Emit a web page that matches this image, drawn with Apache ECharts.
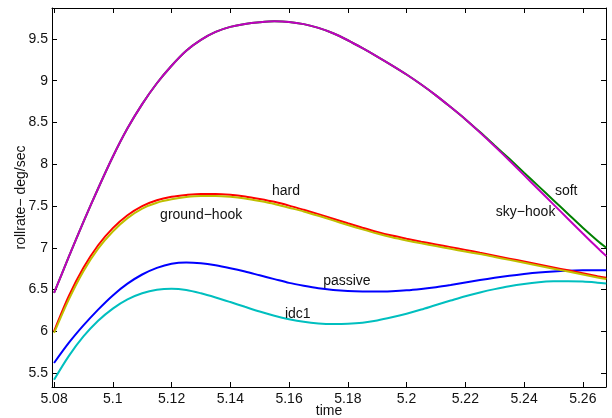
<!DOCTYPE html>
<html>
<head>
<meta charset="utf-8">
<script src="https://cdn.jsdelivr.net/npm/echarts@6/dist/echarts.min.js"></script>
<style>
  html, body { margin: 0; padding: 0; background: #fff; }
  #chart { width: 612px; height: 418px; }
</style>
</head>
<body>
<div id="chart"></div>
<script>
// time samples (s)
const times = [5.08, 5.085, 5.09, 5.095, 5.10, 5.105, 5.11, 5.115, 5.12, 5.125,
  5.13, 5.135, 5.14, 5.145, 5.15, 5.155, 5.16, 5.165, 5.17, 5.175,
  5.18, 5.185, 5.19, 5.195, 5.20, 5.205, 5.21, 5.215, 5.22, 5.225,
  5.23, 5.235, 5.24, 5.245, 5.25, 5.255, 5.26, 5.265, 5.268];

const passive = [5.62, 5.86, 6.07, 6.26, 6.43, 6.57, 6.68, 6.76, 6.81, 6.825,
  6.815, 6.79, 6.755, 6.715, 6.67, 6.625, 6.58, 6.545, 6.515, 6.495,
  6.482, 6.476, 6.475, 6.48, 6.49, 6.507, 6.528, 6.555, 6.585, 6.613,
  6.64, 6.664, 6.685, 6.703, 6.716, 6.725, 6.73, 6.732, 6.732];

const soft = [6.46, 6.89, 7.31, 7.71, 8.09, 8.43, 8.72, 8.97, 9.18, 9.36,
  9.49, 9.585, 9.645, 9.68, 9.70, 9.711, 9.704, 9.678, 9.633, 9.569,
  9.485, 9.39, 9.29, 9.185, 9.075, 8.955, 8.825, 8.685, 8.54, 8.385,
  8.225, 8.065, 7.90, 7.735, 7.57, 7.405, 7.24, 7.085, 7.00];

const hard = [6.00, 6.42, 6.76, 7.03, 7.235, 7.39, 7.50, 7.57, 7.61, 7.632,
  7.645, 7.645, 7.635, 7.615, 7.585, 7.55, 7.505, 7.455, 7.403, 7.348,
  7.293, 7.24, 7.19, 7.146, 7.108, 7.073, 7.04, 7.008, 6.975, 6.94,
  6.905, 6.87, 6.835, 6.80, 6.765, 6.73, 6.695, 6.66, 6.64];

const idc1 = [5.42, 5.703, 5.938, 6.126, 6.272, 6.382, 6.455, 6.497, 6.51, 6.495,
  6.455, 6.405, 6.35, 6.293, 6.237, 6.187, 6.145, 6.113, 6.094, 6.087,
  6.09, 6.103, 6.13, 6.167, 6.21, 6.26, 6.315, 6.368, 6.42, 6.465,
  6.505, 6.54, 6.567, 6.587, 6.598, 6.60, 6.595, 6.582, 6.572];

const skyHook = [6.46, 6.89, 7.31, 7.71, 8.09, 8.43, 8.72, 8.97, 9.18, 9.36,
  9.49, 9.585, 9.645, 9.68, 9.70, 9.711, 9.704, 9.678, 9.633, 9.569,
  9.485, 9.39, 9.29, 9.185, 9.075, 8.955, 8.825, 8.685, 8.54, 8.38,
  8.215, 8.045, 7.87, 7.695, 7.52, 7.345, 7.17, 7.00, 6.90];

const groundHook = [5.98, 6.38, 6.72, 6.99, 7.195, 7.355, 7.47, 7.54, 7.58, 7.607,
  7.62, 7.62, 7.61, 7.59, 7.56, 7.525, 7.48, 7.435, 7.383, 7.328,
  7.273, 7.22, 7.17, 7.126, 7.088, 7.053, 7.02, 6.988, 6.955, 6.925,
  6.89, 6.855, 6.82, 6.785, 6.75, 6.715, 6.68, 6.645, 6.625];

const xTicks = [5.08, 5.1, 5.12, 5.14, 5.16, 5.18, 5.2, 5.22, 5.24, 5.26];
const yTicks = [5.5, 6, 6.5, 7, 7.5, 8, 8.5, 9, 9.5];

// text annotations: name, anchor time, anchor value (left-middle)
const labelNames = ['hard', 'ground\u2212hook', 'soft', 'sky\u2212hook', 'passive', 'idc1'];
const labelX = [5.1542, 5.1161, 5.2505, 5.2304, 5.1716, 5.1586];
const labelY = [7.683, 7.39, 7.683, 7.426, 6.60, 6.21];

const curves = [
  { name: 'passive', color: '#0000ff', values: passive },
  { name: 'soft', color: '#008000', values: soft },
  { name: 'hard', color: '#ff0000', values: hard },
  { name: 'idc1', color: '#00bfbf', values: idc1 },
  { name: 'sky-hook', color: '#bf00bf', values: skyHook },
  { name: 'ground-hook', color: '#bfbf00', values: groundHook },
];

const font = 'Liberation Sans, Arial, Helvetica, sans-serif';
const ink = '#111';

const chart = echarts.init(document.getElementById('chart'));

const xBase = {
  type: 'value',
  min: 5.0793,
  max: 5.2679,
  splitLine: { show: false },
  axisLine: { show: true, onZero: false, lineStyle: { color: '#000', width: 1 } },
  axisTick: { show: true, inside: true, length: 5, customValues: xTicks, lineStyle: { color: '#000' } },
};
const yBase = {
  type: 'value',
  min: 5.333,
  max: 9.871,
  splitLine: { show: false },
  axisLine: { show: true, onZero: false, lineStyle: { color: '#000', width: 1 } },
  axisTick: { show: true, inside: true, length: 5, customValues: yTicks, lineStyle: { color: '#000' } },
};

chart.setOption({
  animation: false,
  grid: { left: 52, right: 6, top: 8, bottom: 31, containLabel: false, outerBoundsMode: 'none' },
  xAxis: [
    Object.assign({}, xBase, {
      position: 'bottom',
      name: 'time',
      nameLocation: 'middle',
      nameGap: 17,
      nameMoveOverlap: false,
      nameTextStyle: { color: ink, fontSize: 14, fontFamily: font },
      axisLabel: { show: true, customValues: xTicks, margin: 5, color: ink, fontSize: 14, fontFamily: font },
    }),
    Object.assign({}, xBase, { position: 'top', axisLabel: { show: false } }),
  ],
  yAxis: [
    Object.assign({}, yBase, {
      position: 'left',
      name: 'rollrate\u2212 deg/sec',
      nameLocation: 'middle',
      nameGap: 24,
      nameMoveOverlap: false,
      nameTextStyle: { color: ink, fontSize: 14, fontFamily: font },
      axisLabel: { show: true, customValues: yTicks, margin: 4, color: ink, fontSize: 14, fontFamily: font },
    }),
    Object.assign({}, yBase, { position: 'right', axisLabel: { show: false } }),
  ],
  series: curves.map(c => ({
    name: c.name,
    type: 'line',
    xAxisIndex: 0,
    yAxisIndex: 0,
    showSymbol: false,
    smooth: 0.3,
    clip: true,
    lineStyle: { color: c.color, width: 2 },
    itemStyle: { color: c.color },
    data: times.map((t, i) => [t, c.values[i]]),
  })),
});

chart.setOption({
  graphic: labelNames.map((txt, i) => {
    const p = chart.convertToPixel({ xAxisIndex: 0, yAxisIndex: 0 }, [labelX[i], labelY[i]]);
    return {
      type: 'text',
      x: p[0],
      y: p[1],
      z: 100,
      style: { text: txt, fill: ink, fontSize: 14, fontFamily: font, align: 'left', verticalAlign: 'middle' },
    };
  }),
});
</script>
</body>
</html>
